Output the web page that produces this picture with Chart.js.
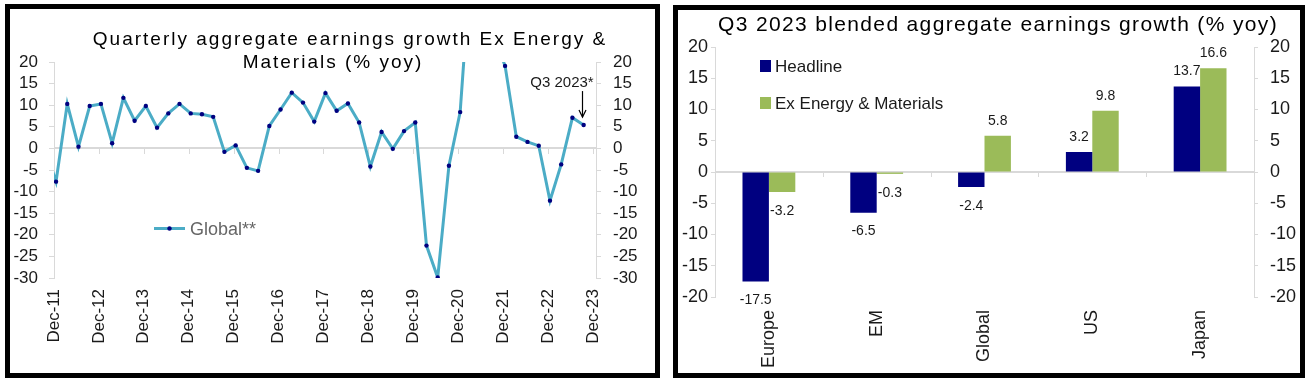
<!DOCTYPE html>
<html><head><meta charset="utf-8">
<script src="https://cdn.jsdelivr.net/npm/chart.js@4.4.1/dist/chart.umd.min.js"></script>
<style>
html,body{margin:0;padding:0;background:#fff;width:1309px;height:382px;overflow:hidden}
.panel{position:absolute;box-sizing:border-box;border:5px solid #000;background:#fff}
#p1{left:5px;top:4px;width:655px;height:374px}
#p2{left:673px;top:5px;width:632px;height:373px}
.panel canvas{display:block}
</style></head><body>
<div class="panel" id="p1"><canvas id="c1" width="645" height="364" style="width:645px;height:364px"></canvas></div>
<div class="panel" id="p2"><canvas id="c2" width="622" height="363" style="width:622px;height:363px"></canvas></div>
<script>
// ---------- Data: left chart ----------
const quarters = ['Sep-11','Dec-11','Mar-12','Jun-12','Sep-12','Dec-12','Mar-13','Jun-13','Sep-13','Dec-13',
  'Mar-14','Jun-14','Sep-14','Dec-14','Mar-15','Jun-15','Sep-15','Dec-15','Mar-16','Jun-16','Sep-16','Dec-16',
  'Mar-17','Jun-17','Sep-17','Dec-17','Mar-18','Jun-18','Sep-18','Dec-18','Mar-19','Jun-19','Sep-19','Dec-19',
  'Mar-20','Jun-20','Sep-20','Dec-20','Mar-21','Jun-21','Sep-21','Dec-21','Mar-22','Jun-22','Sep-22','Dec-22',
  'Mar-23','Jun-23','Sep-23'];
const globalValues = [0.2,-7.7,10.3,0.4,9.8,10.3,1.2,11.7,6.4,9.8,
  4.8,8.1,10.3,8.1,7.9,7.3,-0.8,0.7,-4.5,-5.2,5.2,9.0,
  12.9,10.6,6.2,12.8,8.7,10.4,6.0,-4.2,3.8,-0.1,4.0,6.0,
  -22.5,-29.9,-4.0,8.4,45,95,26,19.1,2.7,1.5,0.6,-12.1,
  -3.7,7.1,5.4];
const xTickLabels = ['Dec-11','Dec-12','Dec-13','Dec-14','Dec-15','Dec-16','Dec-17','Dec-18','Dec-19','Dec-20','Dec-21','Dec-22','Dec-23'];
const leftTitleLines = ['Quarterly aggregate earnings growth Ex Energy &', 'Materials (% yoy)'];
const lineLegend = 'Global**';
const lineNote = 'Q3 2023*';

// ---------- Data: right chart ----------
const regions = ['Europe','EM','Global','US','Japan'];
const headline = [-17.5,-6.5,-2.4,3.2,13.7];
const exEnergyMaterials = [-3.2,-0.3,5.8,9.8,16.6];
const rightTitle = 'Q3 2023 blended aggregate earnings growth (% yoy)';
const seriesNames = ['Headline','Ex Energy & Materials'];

// ---------- Styles ----------
const FONT = "'Liberation Sans', Arial, sans-serif";
const TXT = '#1a1a1a';
const AXIS = '#d9d9d9';
const LINE_C = '#4BACC6';
const NAVY = '#000080';
const GREEN = '#9BBB59';
const X_SHIFT = 0.18;

// ---------- Left chart plugins ----------
const leftDecor = {
  id: 'leftDecor',
  beforeDatasetsDraw(chart) {
    const {ctx, chartArea: a, scales: {x, y}} = chart;
    const y0 = Math.round(y.getPixelForValue(0));
    ctx.save();
    ctx.strokeStyle = AXIS;
    ctx.lineWidth = 2;
    ctx.beginPath(); ctx.moveTo(a.left, y0); ctx.lineTo(a.right, y0); ctx.stroke();
    ctx.lineWidth = 1;
    x.ticks.forEach(t => {
      const px = Math.round(x.getPixelForValue(t.value)) + 0.5;
      ctx.beginPath(); ctx.moveTo(px, y0); ctx.lineTo(px, y0 + 6); ctx.stroke();
    });
    ctx.restore();
  },
  afterDraw(chart) {
    const {ctx} = chart;
    ctx.save();
    // title
    ctx.fillStyle = '#000';
    ctx.font = '19px ' + FONT;
    ctx.textAlign = 'center';
    ctx.textBaseline = 'alphabetic';
    ctx.letterSpacing = '2.0px';
    ctx.fillText(leftTitleLines[0], 340, 36);
    ctx.fillText(leftTitleLines[1], 323, 59);
    ctx.letterSpacing = '0px';
    // legend
    const ly = 219.5;
    ctx.strokeStyle = LINE_C; ctx.lineWidth = 3;
    ctx.beginPath(); ctx.moveTo(144, ly); ctx.lineTo(175, ly); ctx.stroke();
    ctx.fillStyle = NAVY;
    ctx.beginPath(); ctx.arc(159.5, ly, 2.2, 0, Math.PI * 2); ctx.fill();
    ctx.fillStyle = '#666';
    ctx.font = '18px ' + FONT;
    ctx.textAlign = 'left';
    ctx.fillText(lineLegend, 180, 226);
    // annotation on last point
    const meta = chart.getDatasetMeta(0);
    const p = meta.data[meta.data.length - 1];
    const ax = Math.round(p.x - 2) + 0.5;
    ctx.strokeStyle = '#000'; ctx.lineWidth = 1.2;
    ctx.beginPath(); ctx.moveTo(ax, p.y - 34); ctx.lineTo(ax, p.y - 8); ctx.stroke();
    ctx.beginPath(); ctx.moveTo(ax - 3.5, p.y - 15); ctx.lineTo(ax, p.y - 8); ctx.lineTo(ax + 3.5, p.y - 15); ctx.stroke();
    ctx.fillStyle = TXT;
    ctx.font = '15px ' + FONT;
    ctx.textAlign = 'right';
    ctx.fillText(lineNote, p.x + 10, p.y - 38);
    ctx.restore();
  }
};

const yCommon = (pos, width, pad) => ({
  position: pos, min: -30, max: 20,
  afterFit: s => { s.width = width; },
  grid: {drawOnChartArea: false, tickLength: 5, color: AXIS, tickColor: AXIS},
  border: {color: AXIS, width: 1},
  ticks: {stepSize: 5, autoSkip: false, padding: pad, color: TXT, font: {family: FONT, size: 17}}
});

new Chart(document.getElementById('c1'), {
  type: 'line',
  data: {
    datasets: [{
      label: lineLegend,
      data: quarters.map((q, i) => ({x: i - 1, y: globalValues[i]})),
      borderColor: LINE_C, borderWidth: 3, tension: 0,
      pointRadius: 2.2, pointBackgroundColor: NAVY, pointBorderWidth: 0, pointStyle: 'circle',
      yAxisID: 'y'
    }]
  },
  options: {
    responsive: false, animation: false, events: [],
    layout: {padding: {top: 53, left: 0, right: 0, bottom: 0}},
    plugins: {legend: {display: false}, tooltip: {enabled: false}},
    scales: {
      x: {
        type: 'linear', min: -X_SHIFT, max: 48.1, bounds: 'data',
        afterBuildTicks: s => { s.ticks = xTickLabels.map((l, k) => ({value: 4 * k - X_SHIFT})); },
        afterFit: s => { s.height = 95; },
        grid: {display: false}, border: {display: false},
        ticks: {autoSkip: false, minRotation: 90, maxRotation: 90, padding: 3, color: TXT,
          font: {family: FONT, size: 17}, callback: (v, i) => xTickLabels[i]}
      },
      y: yCommon('left', 44, 11),
      y2: yCommon('right', 59, 12)
    }
  },
  plugins: [leftDecor]
});

// ---------- Right chart ----------
const rightDecor = {
  id: 'rightDecor',
  beforeDatasetsDraw(chart) {
    const {ctx, chartArea: a, scales: {x, y}} = chart;
    const y0 = Math.round(y.getPixelForValue(0));
    const catW = (a.right - a.left) / regions.length;
    ctx.save();
    ctx.strokeStyle = AXIS;
    ctx.lineWidth = 2;
    ctx.beginPath(); ctx.moveTo(a.left, y0); ctx.lineTo(a.right, y0); ctx.stroke();
    ctx.lineWidth = 1;
    regions.forEach((r, i) => {
      if (i === 0) return;
      const px = Math.round(x.getPixelForValue(i) - catW / 2) + 0.5;
      ctx.beginPath(); ctx.moveTo(px, y0); ctx.lineTo(px, y0 + 5); ctx.stroke();
    });
    ctx.restore();
  },
  afterDraw(chart) {
    const {ctx} = chart;
    ctx.save();
    // data labels
    ctx.font = '14px ' + FONT;
    ctx.fillStyle = TXT;
    ctx.textAlign = 'center';
    ctx.textBaseline = 'middle';
    chart.data.datasets.forEach((ds, di) => {
      chart.getDatasetMeta(di).data.forEach((el, i) => {
        const v = ds.data[i];
        const ty = v >= 0 ? el.y - 15 : el.y + 19;
        ctx.fillText(v.toFixed(1), el.x, ty);
      });
    });
    // title
    ctx.fillStyle = '#000';
    ctx.font = '21px ' + FONT;
    ctx.textBaseline = 'alphabetic';
    ctx.letterSpacing = '1.35px';
    ctx.fillText(rightTitle, 320, 21);
    ctx.letterSpacing = '0px';
    // legend
    const cols = [NAVY, GREEN];
    const ys = [56, 93];
    ctx.font = '17px ' + FONT;
    ctx.textAlign = 'left';
    ctx.textBaseline = 'middle';
    seriesNames.forEach((n, i) => {
      ctx.fillStyle = cols[i];
      ctx.fillRect(82, ys[i] - 6, 11, 12);
      ctx.fillStyle = TXT;
      ctx.fillText(n, 97, ys[i] + 1);
    });
    ctx.restore();
  }
};

const yRight = (pos, width, pad) => ({
  position: pos, min: -20, max: 20,
  afterFit: s => { s.width = width; },
  grid: {drawOnChartArea: false, tickLength: 4, color: AXIS, tickColor: AXIS},
  border: {color: AXIS, width: 1},
  ticks: {stepSize: 5, autoSkip: false, padding: pad, color: TXT, font: {family: FONT, size: 18}}
});

new Chart(document.getElementById('c2'), {
  type: 'bar',
  data: {
    labels: regions,
    datasets: [
      {label: seriesNames[0], data: headline, backgroundColor: NAVY, yAxisID: 'y'},
      {label: seriesNames[1], data: exEnergyMaterials, backgroundColor: GREEN, yAxisID: 'y'}
    ]
  },
  options: {
    responsive: false, animation: false, events: [],
    datasets: {bar: {categoryPercentage: 0.49, barPercentage: 1.0}},
    layout: {padding: {top: 37, left: 0, right: 0, bottom: 0}},
    plugins: {legend: {display: false}, tooltip: {enabled: false}},
    scales: {
      x: {
        afterFit: s => { s.height = 76; },
        grid: {display: false}, border: {display: false},
        ticks: {autoSkip: false, minRotation: 90, maxRotation: 90, padding: 5, color: TXT,
          font: {family: FONT, size: 18}}
      },
      y: yRight('left', 37, 3),
      y2: yRight('right', 46, 12)
    }
  },
  plugins: [rightDecor]
});
</script>
</body></html>
